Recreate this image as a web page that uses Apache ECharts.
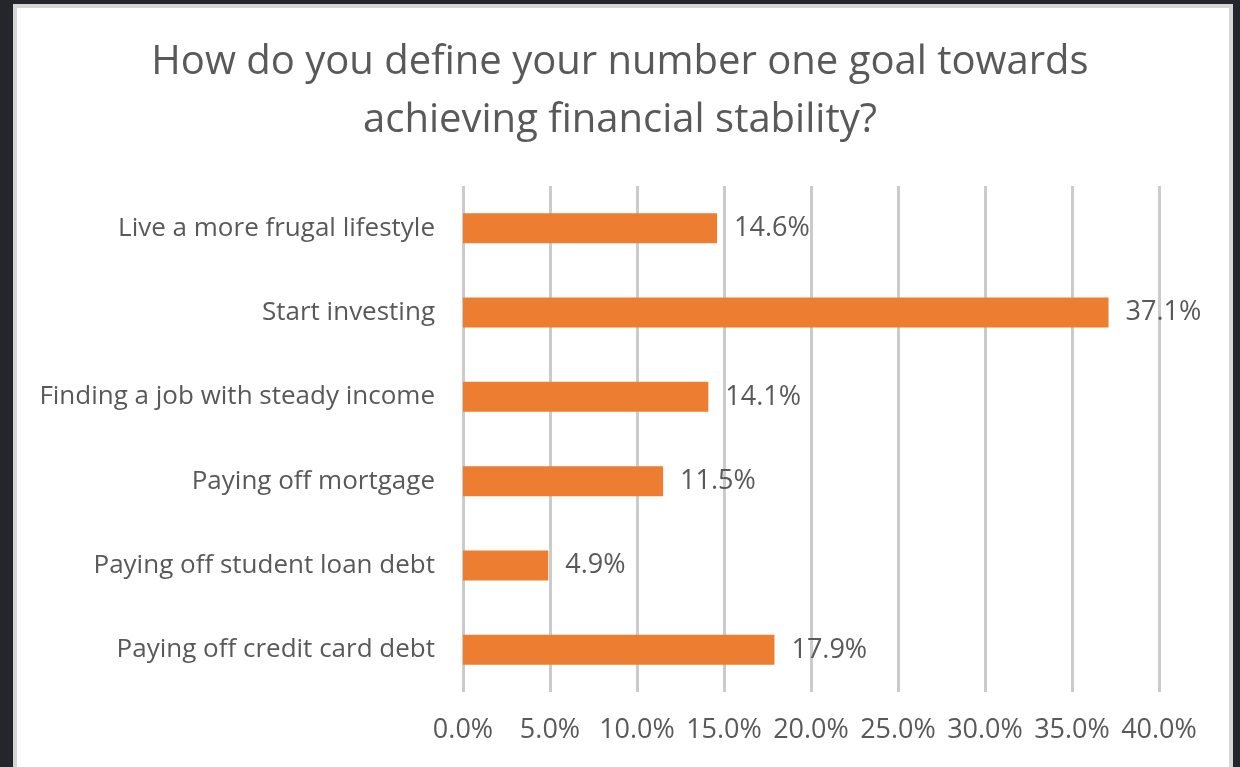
<!DOCTYPE html>
<html>
<head>
<meta charset="utf-8">
<script src="https://cdn.jsdelivr.net/npm/echarts@6/dist/echarts.min.js"></script>
<style>
  html, body { margin: 0; padding: 0; width: 1240px; height: 767px; overflow: hidden; background: #24262b; }
  #frame { position: absolute; left: 13px; top: 4px; width: 1212px; height: 800px; background: #ffffff; border: 4px solid #d6d6d6; border-bottom: none; }
  #chart { position: absolute; left: 0; top: 0; width: 1240px; height: 767px; }
</style>
</head>
<body>
<div id="frame"></div>
<div id="chart"></div>
<script>
// Survey answers, listed top to bottom
const categories = [
  'Live a more frugal lifestyle',
  'Start investing',
  'Finding a job with steady income',
  'Paying off mortgage',
  'Paying off student loan debt',
  'Paying off credit card debt'
];
// Share of respondents (%)
const shares = [14.6, 37.1, 14.1, 11.5, 4.9, 17.9];
const titleText = 'How do you define your number one goal towards\nachieving financial stability?';

const FONT = '"Open Sans", Lato, sans-serif';
const GREY = '#595959';

const chart = echarts.init(document.getElementById('chart'), null, { renderer: 'canvas' });
chart.setOption({
  backgroundColor: 'transparent',
  animation: false,
  title: {
    text: titleText,
    left: 'center',
    top: 29,
    textStyle: { fontFamily: FONT, fontSize: 40, fontWeight: 'normal', color: GREY, lineHeight: 58 }
  },
  grid: { left: 463, right: 81, top: 186, bottom: 75, containLabel: false },
  xAxis: {
    type: 'value',
    min: 0,
    max: 40,
    interval: 5,
    axisLine: { show: false },
    axisTick: { show: false },
    axisLabel: {
      margin: 25,
      fontFamily: FONT, fontSize: 27, color: GREY,
      formatter: v => v.toFixed(1) + '%'
    },
    splitLine: { show: true, lineStyle: { color: '#cbcbcb', width: 3 } }
  },
  yAxis: {
    type: 'category',
    data: categories,
    inverse: true,
    axisLine: { show: false },
    axisTick: { show: false },
    axisLabel: { margin: 28, fontFamily: FONT, fontSize: 26, color: GREY }
  },
  series: [{
    type: 'bar',
    data: shares,
    barWidth: 30,
    itemStyle: { color: '#ED7D31' },
    label: {
      show: true,
      position: 'right',
      distance: 17,
      fontFamily: FONT, fontSize: 27, color: GREY,
      formatter: p => p.value.toFixed(1) + '%'
    }
  }]
});
</script>
</body>
</html>
